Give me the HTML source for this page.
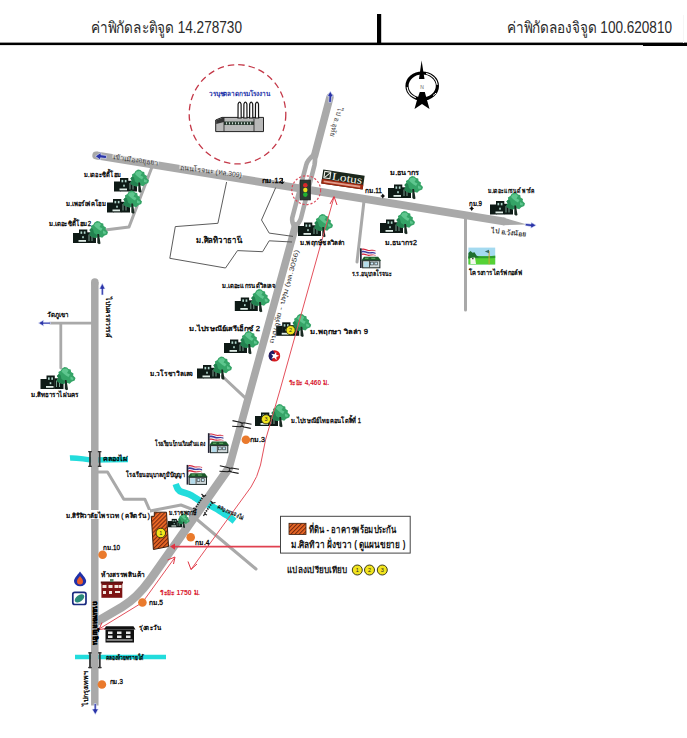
<!DOCTYPE html>
<html><head><meta charset="utf-8">
<style>
html,body{margin:0;padding:0;background:#fff;width:687px;height:738px;overflow:hidden}
svg{display:block;position:absolute;left:0;top:0}
text{font-family:"Liberation Sans",sans-serif}
.t{font-size:7px;fill:#000;font-weight:normal;stroke:#000;stroke-width:0.28px}
.h{font-size:15.6px;fill:#2a2a2a}
</style></head><body>
<svg width="687" height="738" viewBox="0 0 687 738">
<defs>
  <g id="ht">
    <g fill="#0e1a16">
      <rect x="0" y="13" width="6.5" height="10"/>
      <rect x="6" y="9.5" width="8.3" height="13.5"/>
      <rect x="14" y="12.3" width="9" height="10.7"/>
    </g>
    <rect x="7.5" y="11.4" width="1.7" height="2.4" fill="#b0d6cc"/>
    <rect x="10.8" y="11.4" width="1.7" height="2.4" fill="#b0d6cc"/>
    <rect x="9.2" y="16.2" width="1.6" height="2" fill="#b0d6cc"/>
    <rect x="5.5" y="20" width="7.5" height="1.8" fill="#dfece6"/>
    <rect x="15.5" y="14.5" width="1" height="6.5" fill="#7aa090"/>
    <rect x="18.5" y="14.5" width="1" height="6.5" fill="#7aa090"/>
    <g transform="translate(0 -0.9)"><path d="M24 1.8 L26.5 2.3 L28 3.8 L30.2 4.3 L30.6 6.8 L33 8.3 L32.6 10.4 L35 12.8 L34.2 15.4 L31.2 16.6 L29.2 18.6 L26 17.6 L23 19 L20 18.2 L17.4 17 L16.3 15 L17.8 13 L16.4 11 L18.3 9 L17.9 6.8 L20.4 5.4 L21.5 3.3Z" fill="#35a467"/>
    <path d="M17.4 17 L16.3 15 L17.8 13 L16.4 11 L18.3 9 L20 10 L21 14 L24 16 L23 19 L20 18.2Z" fill="#238250"/>
    <path d="M22.5 4 L26 3.5 L28 5.5 L26.5 8 L29.5 9.5 L28 12 L25.5 10.5 L23 8.5 L21 6.5Z M30 11.5 L33 13 L32.5 15 L30 14.5Z" fill="#5ec68e"/>
    </g>
    <path d="M24.3 14 L26 14 L27.5 23.5 L26 24.2 L24.3 23Z" fill="#1a2a22"/>
  </g>
  <g id="school">
    <path d="M1.6 0.6 C4 -0.6,6 1.2,8.5 1.6 C11 2,13 0.8,15.5 2.2 L15.5 7.6 C13 6.4,11 7.6,8.5 7.4 C6 7.2,4 5.4,1.6 6.8Z" fill="#f4f0f4"/>
    <path d="M1.6 0.6 C4 -0.6,6 1.2,8.5 1.6 C11 2,13 0.8,15.5 2.2 L15.5 3 C13 1.8,11 3,8.5 2.6 C6 2.2,4 0.6,1.6 1.8Z" fill="#d8283c"/>
    <path d="M1.6 5.6 C4 4.4,6 6.2,8.5 6.4 C11 6.8,13 5.6,15.5 7 L15.5 7.6 C13 6.4,11 7.6,8.5 7.6 C6 7.4,4 5.8,1.6 7Z" fill="#d8283c"/>
    <path d="M1.6 2.8 C4 1.6,6 3.4,8.5 3.8 C11 4.2,13 3,15.5 4.4 L15.5 5.6 C13 4.2,11 5.4,8.5 5.2 C6 5,4 3.2,1.6 4.4Z" fill="#3c3ca0"/>
    <rect x="0" y="0" width="1.7" height="19.7" fill="#222233"/>
    <path d="M4 8.4 L18.2 8.4 L21.2 12.4 L1.2 12.4Z" fill="#1e5a2c"/>
    <path d="M5 9.5 L9 9.5 L8 10.5 L5 10.5Z M11 9.5 L15 9.5 L15.5 10.5 L11.5 10.5Z" fill="#6ab86a"/>
    <rect x="2.6" y="12.4" width="17.3" height="7.1" fill="#cfd8da" stroke="#1e2a2a" stroke-width="1"/>
    <rect x="4" y="13.6" width="4.5" height="5.2" fill="#b4dcec"/>
    <rect x="10.5" y="13.8" width="2.8" height="2.8" fill="#c4e4f4" stroke="#2a3030" stroke-width=".6"/>
    <rect x="14.8" y="13.8" width="2.8" height="2.8" fill="#c4e4f4" stroke="#2a3030" stroke-width=".6"/>
    <path d="M9.5 12.8 L9.5 19" stroke="#2a3030" stroke-width=".8"/>
  </g>
  <g id="km"><circle r="4.3" fill="#ea7a2c"/></g>
  <g id="brI" fill="#333">
    <rect x="-0.9" y="0" width="1.8" height="16"/>
    <rect x="-1.8" y="0" width="3.6" height="1.3"/>
    <rect x="-1.8" y="14.7" width="3.6" height="1.3"/>
  </g>
  <pattern id="hatch" width="2.9" height="2.9" patternUnits="userSpaceOnUse" patternTransform="rotate(45)">
    <rect width="2.9" height="2.9" fill="#ec6a26"/>
    <rect width="1.1" height="2.9" fill="#7a2a10"/>
  </pattern>
</defs>

<rect x="0" y="42.6" width="687" height="2.5" fill="#000"/>
<rect x="643" y="43" width="44" height="3" fill="#000"/>
<rect x="377" y="14" width="4.2" height="30" fill="#000"/>
<rect x="683" y="15" width="1" height="28" fill="#f6f6f6"/>
<text class="h" x="91" y="32.8" textLength="151" lengthAdjust="spacingAndGlyphs">ค่าพิกัดละติจูด 14.278730</text>
<text class="h" x="507" y="32.8" textLength="165" lengthAdjust="spacingAndGlyphs">ค่าพิกัดลองจิจูด 100.620810</text>

<g fill="none" stroke="#22dcdc">
  <path d="M70 458 C76 457.5,82 459,92 460 L128 459.5" stroke-width="5.5"/>
  <path d="M75 657 L166 657" stroke-width="4.6"/>
  <path d="M175.7 484 C177 488,178 491,182 492 C186 493,190 494,194 497 C197 499,201 502,205.5 503.7 C210 505,213 507,216 508.5 C220 511,224 514,227 515.3 C230 517,232 519,234.6 521.1" stroke-width="6.5"/>
</g>

<g stroke="#a9a9a9" fill="none" stroke-linecap="round" stroke-linejoin="round">
  <path d="M96.2 155.4 L505 221.7" stroke-width="7.8" stroke-linecap="butt"/>
  <path d="M96.2 155.4 L97 155.5" stroke-width="7.8"/>
  <path d="M503 217.5 L527 224.4 L503 225.3Z" stroke="none" fill="#a9a9a9"/>
  <path d="M94.8 282 L94.8 705.5" stroke-width="7.5" stroke-linecap="butt"/>
  <path d="M94.8 283 L94.8 282" stroke-width="7.5"/>
  <path d="M330 97 L314.5 156" stroke-width="7.5"/>
  <path d="M295.5 226 L229 468" stroke-width="7.6"/>
  <path d="M229 468 L150 580 Q137 598 122 607 L98 621" stroke-width="8.5"/>
  <path d="M152 167 L129 227 L105 230" stroke-width="3"/>
  <path d="M364 201 L357 262" stroke-width="3"/>
  <path d="M465.5 216 L465.5 310" stroke-width="3"/>
  <path d="M91 323.1 L50 323.1 M60.8 323.1 L60.8 368" stroke-width="2.8"/>
  <path d="M222 376 L245 397.6" stroke-width="3"/>
  <path d="M98 472 L107.5 472 L123.8 499.2 L144.8 499.2 L150 511 L181 505 L195 510.5" stroke-width="3"/>
  <path d="M196.4 519 L256 569" stroke-width="3"/>
</g>
<g stroke="#a9a9a9" fill="none" stroke-width="4.6" stroke-linejoin="round">
  <path d="M314.5 154 C310.5 157.5,306.8 161,306.2 165 L292.2 218 C291.6 222,293 224.5,295 227.5"/>
  <path d="M314.5 154 C315.5 157.5,315.2 161,314.5 165 L301 218 C300 222,297.5 224.5,295 227.5"/>
</g>

<g fill="#2a34a8" stroke="#e8ecff" stroke-width=".6">
  <path d="M330.3 91.3 L333.3 96.5 L331.6 96.6 L331.2 102.5 L328.7 102.3 L329.1 96.3 L327.3 96.2Z"/>
  <path d="M95.3 156.2 L101 152.6 L100.9 154.8 L106.6 155.6 L106.2 158.6 L100.5 157.8 L100.4 160Z"/>
  <path d="M536.2 225.3 L531 222.3 L531.1 224.1 L525.5 223.4 L525.2 225.8 L530.9 226.5 L530.8 228.3Z"/>
  <path d="M38.4 323.1 L43.8 320 L43.3 322.2 L50.5 322.2 L50.5 324 L43.3 324 L43.8 326.2Z"/>
  <path d="M102.3 283.3 L105.2 289 L103.3 289 L103.3 295 L101.3 295 L101.3 289 L99.4 289Z"/>
  <path d="M95.3 714.5 L92 709 L94.2 709 L94.2 703.5 L96.2 703.5 L96.2 709 L98.4 709Z"/>
</g>

<g stroke="#4a4a4a" stroke-width=".9" fill="none">
  <path d="M226.6 182 L217.9 223.3 L175.3 226.6 L169.8 258.3 L225.5 268 L237.5 250.6 L262.6 251.7 L269.2 240.8 L292 242"/>
  <path d="M275.7 187.6 L261.5 220 L269.2 233.1 L293 236.4"/>
</g>

<use href="#brI" x="90" y="451"/><use href="#brI" x="99.6" y="451"/>
<use href="#brI" x="90" y="652.2"/><use href="#brI" x="99.8" y="652.2"/>
<g stroke="#1a1a1a" stroke-width="1.1" fill="none">
  <path d="M232.5 420.6 L240 422.2 Q242 423.6 244 422.8 L251.5 424.2"/>
  <path d="M232.2 426.2 L240 426.8 Q242 425.4 244 427 L250.8 428.4"/>
  <path d="M242 422.5 L242 427" stroke-width=".8"/>
  <path d="M219.8 465.8 L227.6 467.4 Q229.6 468.8 231.6 468 L239 469.2"/>
  <path d="M219.4 471.2 L227.6 471.8 Q229.6 470.4 231.6 472 L238.6 473.4"/>
  <path d="M229.6 467.8 L229.6 472" stroke-width=".8"/>
</g>
<g stroke="#222" stroke-width="1.8" stroke-dasharray="1.4 1" fill="none">
  <path d="M203.6 495.8 L194.9 508.6"/>
  <path d="M212.4 502.5 L204.2 514.1"/>
</g>
<g stroke="#222" stroke-width="1.2" fill="none">
  <path d="M201.5 494 L204 496.5 L206 495 M193 508 L195.5 509.5 L193 511.5 M210.5 501 L213 503 L215.5 502.5 M203.5 516 L204.5 514 L207 515"/>
</g>

<ellipse cx="237.5" cy="114.3" rx="48.3" ry="49.6" fill="none" stroke="#c43848" stroke-width="1.3" stroke-dasharray="6.5 4"/>
<circle cx="306.2" cy="190.2" r="14.4" fill="none" stroke="#dc4a5a" stroke-width="1.2" stroke-dasharray="2.2 1.8"/>

<rect x="300.3" y="180.2" width="10" height="19.6" fill="#2c3a32" stroke="#222" stroke-width="1"/>
<circle cx="305.3" cy="185.3" r="2.3" fill="#d8282a"/>
<circle cx="305.3" cy="190" r="2.2" fill="#eadc20"/>
<circle cx="305.3" cy="194.6" r="2.3" fill="#22b032"/>

<g transform="translate(323.3 169.6) rotate(8.3)">
  <rect x="0" y="0" width="41.8" height="14" fill="#1b271c"/>
  <rect x="0" y="9.3" width="41.8" height="4.7" fill="#a02810"/>
  <rect x="1.8" y="1.6" width="6" height="6.5" fill="none" stroke="#f0f0e8" stroke-width="1.1"/>
  <path d="M2.5 7.5 L7 2.5" stroke="#f0f0e8" stroke-width="1"/>
  <text x="9.5" y="8.8" textLength="30.5" lengthAdjust="spacingAndGlyphs" style="font-family:'Liberation Serif',serif;font-size:11px;fill:#f4f4ea">Lotus</text>
  <rect x="2" y="10.6" width="37" height="2" fill="#f0b8a8" opacity=".8"/>
</g>

<g>
  <ellipse cx="422.2" cy="86" rx="15.2" ry="13" fill="none" stroke="#000" stroke-width="3.2"/>
  <path d="M421.6 60.5 L424.5 79 L419 79Z" fill="#000"/>
  <path d="M419.8 92 L424.8 92 L427 100 L429.5 109 L422 104 L414.5 109 L417 100Z" fill="#000"/>
  <path d="M426.1 73.4 A15.2 13 0 0 1 437.3 84.9" fill="none" stroke="#fff" stroke-width="1.1"/>
  <path d="M415.8 97.8 A15.2 13 0 0 1 407.1 87.1" fill="none" stroke="#fff" stroke-width="1.1"/>
  <path d="M436 93 A15.2 13 0 0 1 433 95.5" fill="none" stroke="#fff" stroke-width="1"/>
  <text x="420.3" y="89" style="font-size:5px;fill:#666">N</text>
</g>

<g>
  <path d="M215.7 120 L222 117.4 L263.5 117.4 L263.5 131.6 L215.7 131.6Z" fill="#b8b8b8" stroke="#222" stroke-width="1"/>
  <rect x="224" y="121.5" width="30" height="3.5" fill="#2f4036"/>
  <path d="M224 117.4 L224 131.6 M254 117.4 L254 131.6" stroke="#222" stroke-width=".8"/>
  <g fill="#fff" stroke="#151515" stroke-width="1.2">
    <path d="M238 118 L238.1 104 Q239.6 100.3 241.1 104 L241.2 118Z"/>
    <path d="M243.8 118 L243.9 104 Q245.4 100.3 246.9 104 L247 118Z"/>
    <path d="M249.6 118 L249.7 104 Q251.2 100.3 252.7 104 L252.8 118Z"/>
    <path d="M255.4 118 L255.5 104 Q257 100.3 258.5 104 L258.6 118Z"/>
  </g>
  <g fill="#c8d8d0"><rect x="226" y="122.3" width="1" height="2"/><rect x="229" y="122.3" width="1" height="2"/><rect x="232" y="122.3" width="1" height="2"/><rect x="235" y="122.3" width="1" height="2"/><rect x="238" y="122.3" width="1" height="2"/><rect x="241" y="122.3" width="1" height="2"/><rect x="244" y="122.3" width="1" height="2"/><rect x="247" y="122.3" width="1" height="2"/><rect x="250" y="122.3" width="1" height="2"/></g>
  <path d="M216.2 120.2 L222 117.9 L224 117.9 L224 122 L216.2 124Z" fill="#333"/>
  <text x="208.7" y="96" textLength="61" lengthAdjust="spacingAndGlyphs" style="font-size:6.5px;fill:#2030a8;font-weight:bold">วรนุชตลาดกรมโรงงาน</text>
</g>

<use href="#ht" x="114" y="168.5"/>
<use href="#ht" x="107" y="189.5"/>
<use href="#ht" x="73" y="220"/>
<use href="#ht" x="388" y="175"/>
<use href="#ht" x="380" y="210"/>
<use href="#ht" x="298" y="213"/>
<use href="#ht" x="490" y="191.5"/>
<use href="#ht" x="234.8" y="288"/>
<use href="#ht" x="224" y="330"/>
<use href="#ht" x="197" y="355.5"/>
<use href="#ht" x="276.2" y="312.8"/>
<use href="#ht" x="255" y="403"/>
<use href="#ht" x="40.5" y="366"/>
<use href="#ht" transform="translate(168 513) scale(0.62)"/>
<g stroke="#e4505c" fill="none" stroke-width="1">
  <path d="M334 197 L280 390 L265.5 440 L260.5 465 Q257.5 477 251 487 L191 569.5"/>
  <path d="M174.5 558 L142.4 602.5 L99 629"/>
</g>
<path d="M172 546.6 L281 546.6" stroke="#e04050" stroke-width="1.8"/>
<g fill="none" stroke="#e03442" stroke-width="1">
  <path d="M330 204 L334 196.5 L337 205"/>
  <path d="M188 561.5 L191 569.5 L197 564"/>
  <path d="M167.5 560 L175 557 L173.5 564"/>
  <path d="M102 622.5 L99 629.5 L106.5 628.5"/>
</g>
<path d="M170 546.6 L175 543.5 L175 549.7Z" fill="#e03442"/>

<use href="#school" x="360" y="248.3"/>
<use href="#school" x="207.9" y="433.2"/>
<use href="#school" x="186.6" y="464.9"/>
<rect x="468.4" y="247.6" width="26.8" height="16.9" fill="#a4daf0"/>
<path d="M468.4 256.5 C476 255,486 257,495.2 255.8 L495.2 264.5 L468.4 264.5Z" fill="#56d236"/>
<path d="M468.4 256.5 C476 255,486 257,495.2 255.8 L495.2 258 C486 259,476 257.5,468.4 258.5Z" fill="#2e9e2e"/>
<path d="M468.4 258.5 L468.4 253 L470.5 251 L472.5 252.8 L474.5 252.3 L476.5 255.5 L479 257.3 Z" fill="#1f7030"/>
<path d="M470.3 258 L475 257.6 L476 264 L470.5 264Z" fill="#f4f8f0"/>
<rect x="472" y="258.2" width="1.6" height="1" fill="#222"/>
<rect x="488.6" y="251" width="1" height="13.3" fill="#d8a030"/>
<path d="M489 249.8 L484.8 251.6 L489 253.2Z" fill="#3a6a62"/>

<circle cx="274.5" cy="355.9" r="5.7" fill="#d41a1e"/>
<path d="M273 350.3 A5.7 5.7 0 0 0 271.5 360.8 L275.5 355Z" fill="#1c1c66"/>
<path d="M275.2 350.3 L276.3 354 L280.3 354.3 L277.1 356.6 L278.3 360.4 L275 358.2 L271.7 360.4 L272.9 356.6 L269.7 354.3 L273.9 354Z" fill="#fff" transform="translate(274.5 355.9) rotate(15) scale(0.8) translate(-274.5 -355.9)"/>

<path d="M154.3 512.2 L166.5 512.2 L168.5 546.5 L153.4 549.5 L151.3 516.3 L154.3 516.3Z" fill="url(#hatch)" stroke="#3a2010" stroke-width="1"/>

<circle cx="160.8" cy="533" r="4.8" fill="#f2e41e" stroke="#2a2a10" stroke-width=".9"/>
<text x="160.8" y="534.9" text-anchor="middle" style="font-size:5.5px;fill:#222">1</text>
<circle cx="290.6" cy="330.2" r="4.6" fill="#f2e41e" stroke="#2a2a10" stroke-width=".9"/>
<text x="290.6" y="332.09999999999997" text-anchor="middle" style="font-size:5.5px;fill:#222">2</text>
<circle cx="266" cy="419.3" r="4.6" fill="#f2e41e" stroke="#2a2a10" stroke-width=".9"/>
<text x="266" y="421.2" text-anchor="middle" style="font-size:5.5px;fill:#222">3</text>
<circle cx="357.3" cy="570" r="5" fill="#f2e41e" stroke="#2a2a10" stroke-width=".9"/>
<text x="357.3" y="571.9" text-anchor="middle" style="font-size:5.5px;fill:#222">1</text>
<circle cx="369.5" cy="570" r="5" fill="#f2e41e" stroke="#2a2a10" stroke-width=".9"/>
<text x="369.5" y="571.9" text-anchor="middle" style="font-size:5.5px;fill:#222">2</text>
<circle cx="382.3" cy="570" r="5" fill="#f2e41e" stroke="#2a2a10" stroke-width=".9"/>
<text x="382.3" y="571.9" text-anchor="middle" style="font-size:5.5px;fill:#222">3</text>
<use href="#km" x="245.9" y="439.7"/>
<use href="#km" x="102.6" y="554.8"/>
<use href="#km" x="142.4" y="602.5"/>
<use href="#km" x="101.9" y="684.5"/>
<use href="#km" x="190.7" y="537.2"/>
<g fill="#111">
<path d="M382.8 193.5 L384.5 196 L382.8 198.5 L381.1 196Z"/><path d="M380.5 196 L385 196" stroke="#111" stroke-width=".6"/>
<path d="M471.7 206 L473.4 208.5 L471.7 211 L470 208.5Z"/><path d="M469.4 208.5 L474 208.5" stroke="#111" stroke-width=".6"/>
<path d="M282.3 178 L282.3 183 M280.6 181.5 L282.3 184 L284 181.5" stroke="#111" stroke-width="1" fill="none"/>
</g>
<rect x="280.5" y="516.3" width="129.7" height="36.8" fill="#fff" stroke="#444" stroke-width="1"/>
<rect x="289" y="523.3" width="17" height="11.2" fill="url(#hatch)" stroke="#3a2010" stroke-width=".8"/>
<text x="309" y="533" textLength="87" lengthAdjust="spacingAndGlyphs" style="font-size:10px;font-weight:bold;fill:#151515">ที่ดิน - อาคารพร้อมประกัน</text>
<text x="291.4" y="547.5" textLength="114" lengthAdjust="spacingAndGlyphs" style="font-size:10px;font-weight:bold;fill:#151515">ม.ศิลทิวา ฝั่งขวา ( ดูแผนขยาย )</text>
<text x="287" y="573" textLength="60" lengthAdjust="spacingAndGlyphs" style="font-size:9px;font-weight:bold;fill:#151515">แปลงเปรียบเทียบ</text>

<path d="M80 571.4 C83.5 576,86.2 578.5,86.2 581 A6.1 5.2 0 0 1 74 581 C74 578.5,76.5 576,80 571.4Z" fill="#2030a8"/>
<path d="M80 576 C81.5 578,83 579.5,83 581.5 A3 3 0 0 1 77 581.5 C77 579.5,78.5 578,80 576Z" fill="#e85a2a"/>
<rect x="72.8" y="592.3" width="13.2" height="12.2" rx="2" fill="#fff" stroke="#1a2a80" stroke-width="1.7"/>
<ellipse cx="79.5" cy="598.4" rx="5.4" ry="3.2" transform="rotate(-35 79.5 598.4)" fill="#2a8a7a"/>
<path d="M101.4 583 L122.3 583 L122.3 597.8 L101.4 597.8Z" fill="#7e1414"/>
<path d="M100.8 581.5 L123 581.5 L123 583.5 L100.8 583.5Z" fill="#5a1010"/>
<rect x="110" y="579" width="3.5" height="3" fill="#5a8a6a"/>
<g fill="#f2e8e0">
  <rect x="102.5" y="585" width="4" height="3"/><rect x="108.5" y="585" width="4" height="3"/><rect x="114.5" y="585" width="4" height="3"/><rect x="119" y="585" width="2.5" height="3"/>
  <rect x="103" y="591" width="3" height="3"/><rect x="109" y="591" width="3" height="3"/><rect x="115" y="591" width="5" height="2"/>
</g>
<path d="M106 626.2 L133.5 626.2 L135.5 629.5 L104 629.5Z" fill="#111"/>
<rect x="105.5" y="629.5" width="28.5" height="13" fill="#111"/>
<g fill="#e8e8e8">
  <rect x="108" y="631.5" width="4.5" height="2.5"/><rect x="117" y="631.5" width="4.5" height="2.5"/><rect x="126" y="631.5" width="4.5" height="2.5"/>
  <rect x="108" y="635.5" width="4.5" height="2.5"/><rect x="117" y="635.5" width="4.5" height="2.5"/><rect x="126" y="635.5" width="4.5" height="2.5"/>
  <rect x="106.5" y="639.5" width="26" height="1"/>
</g>

<rect x="65" y="510" width="85" height="9" fill="#fff"/>
<g class="t">
<text x="196" y="243" textLength="46" lengthAdjust="spacingAndGlyphs" style="font-size:8.5px">ม.ศิลทิวาธานี</text>
<text x="84" y="176.5" textLength="37" lengthAdjust="spacingAndGlyphs">ม.เดอะซิตี้โฮม</text>
<text x="66" y="206" textLength="40" lengthAdjust="spacingAndGlyphs">ม.เพอร์เฟคโฮม</text>
<text x="49" y="226" textLength="42" lengthAdjust="spacingAndGlyphs">ม.เดอะซิตี้โฮม2</text>
<text x="390" y="174.5" textLength="29" lengthAdjust="spacingAndGlyphs">ม.ธนากร</text>
<text x="365" y="193" textLength="17" lengthAdjust="spacingAndGlyphs">กม.11</text>
<text x="488" y="192.5" textLength="47" lengthAdjust="spacingAndGlyphs">ม.เดอะแกรนด์ พาร์ค</text>
<text x="469" y="205.5" textLength="13" lengthAdjust="spacingAndGlyphs">กม.9</text>
<text x="469" y="274.5" textLength="53" lengthAdjust="spacingAndGlyphs">โครงการไดร์ฟกอล์ฟ</text>
<text x="385" y="244.5" textLength="32" lengthAdjust="spacingAndGlyphs">ม.ธนากร2</text>
<text x="352" y="276" textLength="40" lengthAdjust="spacingAndGlyphs">ร.ร.อนุบาลโรจนะ</text>
<text x="300" y="245" textLength="45" lengthAdjust="spacingAndGlyphs">ม.พฤกษ์ชลวิลล่า</text>
<text x="262" y="182.5" textLength="21" lengthAdjust="spacingAndGlyphs">กม.12</text>
<text x="222" y="287.5" textLength="53" lengthAdjust="spacingAndGlyphs">ม.เดอะแกรนด์วิลเลจ</text>
<text x="189" y="330.5" textLength="71" lengthAdjust="spacingAndGlyphs">ม.ไปรษณีย์เสรีเอ็กซ์ 2</text>
<text x="310" y="333.5" textLength="58" lengthAdjust="spacingAndGlyphs">ม.พฤกษา วิลล่า 9</text>
<text x="150" y="375.5" textLength="43" lengthAdjust="spacingAndGlyphs">ม.วโรชาวิลเลจ</text>
<text x="291" y="422.5" textLength="70" lengthAdjust="spacingAndGlyphs">ม.ไปรษณีย์ไทยคอนโดสิ้ที่ 1</text>
<text x="250" y="442" textLength="15" lengthAdjust="spacingAndGlyphs">กม.3</text>
<text x="155" y="445.5" textLength="50" lengthAdjust="spacingAndGlyphs">โรงเรียนบ้านเนินดินแดง</text>
<text x="126" y="476.5" textLength="59" lengthAdjust="spacingAndGlyphs">โรงเรียนอนุบาลภูมิปัญญา</text>
<text x="102.5" y="461" textLength="25" lengthAdjust="spacingAndGlyphs">คลองไผ่</text>
<text x="66" y="517.5" textLength="84" lengthAdjust="spacingAndGlyphs">ม.สิริศิวาลัยไพรเวท ( คลีตรัน )</text>
<text x="169" y="515" textLength="28" lengthAdjust="spacingAndGlyphs">ม.ราชพฤกษ์</text>
<text x="195.4" y="544.5" textLength="14" lengthAdjust="spacingAndGlyphs">กม.4</text>
<text x="103" y="549.5" textLength="17" lengthAdjust="spacingAndGlyphs">กม.10</text>
<text x="101" y="577" textLength="44" lengthAdjust="spacingAndGlyphs">ห้างสรรพสินค้า</text>
<text x="149" y="604.5" textLength="14" lengthAdjust="spacingAndGlyphs">กม.5</text>
<text x="139" y="630" textLength="22" lengthAdjust="spacingAndGlyphs">รุ่งตะวัน</text>
<text x="105.5" y="659.5" textLength="38" lengthAdjust="spacingAndGlyphs">คลองห้วยทรายใต้</text>
<text x="109.8" y="683.5" textLength="13" lengthAdjust="spacingAndGlyphs">กม.3</text>
<text x="47" y="316.5" textLength="22" lengthAdjust="spacingAndGlyphs">วัดภูเขา</text>
<text x="31" y="396.5" textLength="48" lengthAdjust="spacingAndGlyphs">ม.สิทธาราไผ่นคร</text>
<rect x="112" y="152" width="47" height="6" transform="rotate(8 113 159)" fill="#fff" fill-opacity=".55" stroke="none"/>
<text x="113" y="159" transform="rotate(8 113 159)" textLength="45" lengthAdjust="spacingAndGlyphs" style="font-weight:normal;fill:#333;stroke:none">เข้าเมืองอยุธยา</text>
<rect x="179" y="163" width="64" height="6" transform="rotate(7.5 180 169.5)" fill="#fff" fill-opacity=".55" stroke="none"/>
<text x="180" y="169.5" transform="rotate(7.5 180 169.5)" textLength="62" lengthAdjust="spacingAndGlyphs" style="font-weight:normal;fill:#333;stroke:none">ถนนโรจนะ  (ทล.309)</text>
<text x="491" y="233" transform="rotate(6 491 233)" textLength="35" lengthAdjust="spacingAndGlyphs" style="font-weight:normal;fill:#222;stroke:#222;stroke-width:.15px">ไป อ.วังน้อย</text>
<text x="217" y="508" transform="rotate(25 217 508)" textLength="28" lengthAdjust="spacingAndGlyphs" style="font-size:6px;fill:#444">คลองหนองไผ่</text>
<text x="105.5" y="297" transform="rotate(90 105.5 297)" textLength="41" lengthAdjust="spacingAndGlyphs">ไปนครสวรรค์</text>
<text x="88" y="706" transform="rotate(-90 88 706)" textLength="35" lengthAdjust="spacingAndGlyphs">ไปกรุงเทพฯ</text>
<text x="92.5" y="601" transform="rotate(90 92.5 601)" textLength="44" lengthAdjust="spacingAndGlyphs" style="font-size:6.5px;font-weight:bold">ถนนพหลโยธิน</text>
<text x="337.6" y="106.9" transform="rotate(105 337.6 106.9)" textLength="30" lengthAdjust="spacingAndGlyphs" style="font-weight:normal;fill:#444;stroke:none">ไป อ.อุทัย</text>
<text x="273.2" y="344" transform="rotate(-74.5 273.2 344)" textLength="97" lengthAdjust="spacingAndGlyphs" style="font-weight:normal;fill:#333;stroke:none;font-size:6.5px">ถนนอุทัย - ปทุม  (ทล.3056)</text>
</g>
<g style="font-size:7.5px;fill:#d82030;font-weight:bold">
  <text x="289" y="384.5" textLength="40" lengthAdjust="spacingAndGlyphs">ระยะ 4,460 ม.</text>
  <text x="160" y="594.5" textLength="40" lengthAdjust="spacingAndGlyphs">ระยะ 1750 ม.</text>
</g>
</svg>
</body></html>
